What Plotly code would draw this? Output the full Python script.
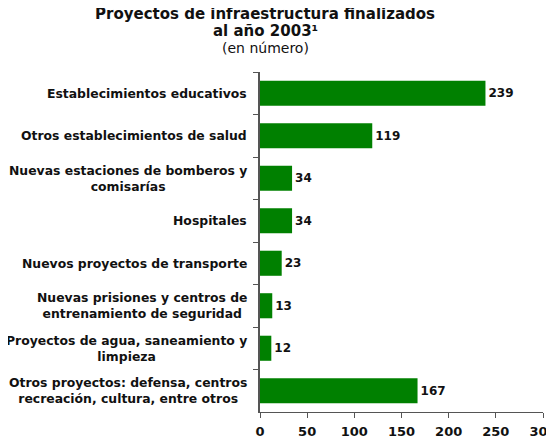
import plotly.graph_objects as go

categories = [
    "Establecimientos educativos",
    "Otros establecimientos de salud",
    "Nuevas estaciones de bomberos y<br>comisarías",
    "Hospitales",
    "Nuevos proyectos de transporte",
    "Nuevas prisiones y centros de<br>entrenamiento de seguridad",
    "Proyectos de agua, saneamiento y<br>limpieza",
    "Otros proyectos: defensa, centros<br>recreación, cultura, entre otros",
]
values = [239, 119, 34, 34, 23, 13, 12, 167]
x_ticks = [0, 50, 100, 150, 200, 250, 300]

title_line1 = "Proyectos de infraestructura finalizados"
title_line2 = "al año 2003¹"
subtitle = "(en número)"

FONT = "DejaVu Sans"
GREEN = "#008000"
AXIS = "#555555"
TXT = "#111111"

# page body has an 8px margin: figure coordinates = page coordinates - 8
OFF = 8
W, H = 554 - OFF, 442 - OFF
L, T = 260 - OFF, 72 - OFF
R = W - (543 - OFF)
B = H - (412 - OFF)
plot_h = H - T - B
plot_w = W - L - R

def py(p):
    return (H - B - (p - OFF)) / plot_h

def px(p):
    return ((p - OFF) - L) / plot_w

fig = go.Figure()
fig.add_trace(go.Bar(
    y=categories, x=values, orientation="h",
    marker=dict(color=GREEN, line=dict(width=0)),
    text=[str(v) for v in values], textposition="outside",
    textfont=dict(family=FONT, size=12, color=TXT, weight="bold"),
    cliponaxis=False,
))

annotations = []
for txt, ypix, size, weight in [
    (title_line1, 14, 15, "bold"),
    (title_line2, 31, 15, "bold"),
    (subtitle, 48, 14, "normal"),
]:
    annotations.append(dict(
        text=txt, xref="paper", yref="paper", x=px(265), y=py(ypix),
        xanchor="center", yanchor="middle", showarrow=False,
        font=dict(family=FONT, size=size, color=TXT, weight=weight),
    ))

for c in categories:
    annotations.append(dict(
        text=c, xref="paper", yref="y", x=0, y=c,
        xanchor="right", yanchor="middle", xshift=-11, align="center",
        showarrow=False,
        font=dict(family=FONT, size=12.4, color=TXT, weight="bold"),
    ))

fig.update_layout(
    width=W, height=H,
    margin=dict(l=L, r=R, t=T, b=B, pad=0),
    paper_bgcolor="white", plot_bgcolor="white",
    showlegend=False, bargap=0.41,
    annotations=annotations,
    xaxis=dict(
        range=[0, 300], tickvals=x_ticks, showgrid=False, zeroline=False,
        showline=True, linecolor=AXIS, linewidth=1,
        ticks="outside", ticklen=5, tickcolor=AXIS,
        ticklabeloverflow="allow", automargin=False, ticklabelstandoff=2,
        tickfont=dict(family=FONT, size=13, color=TXT, weight="bold"),
    ),
    yaxis=dict(
        autorange="reversed", showgrid=False, zeroline=False,
        showline=True, linecolor=AXIS, linewidth=1.5,
        ticks="outside", ticklen=5, tickcolor=AXIS, tickson="boundaries",
        showticklabels=False,
    ),
)

fig.write_html("out.html")
